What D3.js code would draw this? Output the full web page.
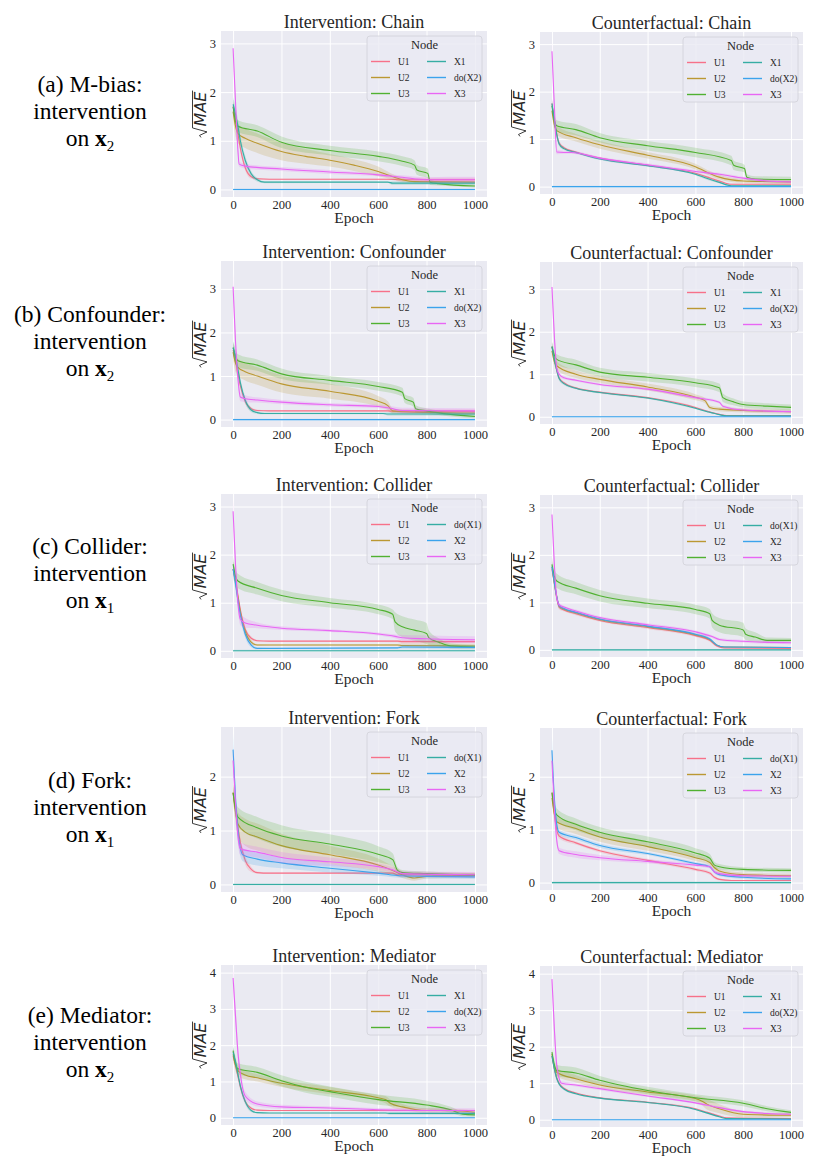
<!DOCTYPE html>
<html lang="en">
<head>
<meta charset="UTF-8">
<title>sqrt(MAE) per node: intervention and counterfactual</title>
<script src="https://d3js.org/d3.v7.min.js"></script>
<style>
  body { margin: 0; background: #fff; }
  svg { display: block; }
</style>
</head>
<body>
<div id="chart"></div>
<script>
// every series is a list of [epoch, mean sqrt(MAE), half width of the band]
const zeroLine = [[0, 0, 0.02], [1000, 0, 0.02]];

// (a) Chain
const chainIntU1 = [[0,1.7,0.15],[10,1.45,0.12],[20,1.15,0.1],[30,0.85,0.08],[50,0.45,0.06],[75,0.26,0.04],[100,0.22,0.02],[150,0.21,0.01],[640,0.21,0.01],[700,0.2,0.04],[1000,0.2,0.04]];
const chainIntU2 = [[0,1.6,0.2],[10,1.3,0.2],[20,1.15,0.2],[50,1.05,0.2],[100,0.95,0.2],[200,0.78,0.18],[300,0.68,0.15],[400,0.6,0.13],[500,0.5,0.12],[600,0.37,0.1],[650,0.28,0.06],[700,0.2,0.04],[750,0.16,0.02],[1000,0.15,0.02]];
const chainIntU3 = [[0,1.7,0.15],[10,1.4,0.12],[20,1.3,0.12],[100,1.2,0.12],[200,0.97,0.12],[400,0.8,0.1],[600,0.68,0.1],[700,0.58,0.1],[750,0.5,0.1],[760,0.4,0.1],[805,0.33,0.1],[815,0.15,0.06],[850,0.12,0.04],[1000,0.07,0.03]];
const chainIntX1 = [[0,1.75,0.15],[10,1.55,0.15],[20,1.3,0.15],[30,1.0,0.12],[50,0.6,0.1],[75,0.32,0.06],[100,0.2,0.04],[130,0.15,0.02],[640,0.15,0.01],[660,0.13,0.04],[1000,0.13,0.04]];
const chainIntX3 = [[0,2.9,0.2],[10,1.8,0.15],[20,0.8,0.1],[25,0.52,0.05],[50,0.48,0.05],[200,0.42,0.04],[400,0.36,0.04],[600,0.3,0.03],[700,0.25,0.04],[800,0.2,0.05],[900,0.2,0.06],[1000,0.2,0.06]];
const chainCfU1 = [[0,1.75,0.1],[10,1.4,0.1],[20,1.1,0.08],[30,0.92,0.05],[50,0.82,0.03],[100,0.73,0.02],[200,0.6,0.02],[400,0.45,0.02],[600,0.28,0.02],[650,0.2,0.03],[700,0.12,0.02],[750,0.05,0.01],[1000,0.05,0.01]];
const chainCfU2 = [[0,1.6,0.1],[10,1.3,0.1],[20,1.18,0.1],[100,1.03,0.08],[200,0.88,0.08],[400,0.66,0.07],[600,0.42,0.06],[650,0.3,0.05],[700,0.2,0.05],[800,0.12,0.04],[1000,0.1,0.04]];
const chainCfU3 = [[0,1.7,0.12],[10,1.4,0.12],[20,1.28,0.12],[100,1.2,0.12],[200,1.03,0.1],[400,0.86,0.1],[600,0.72,0.1],[750,0.55,0.1],[760,0.45,0.1],[805,0.38,0.08],[815,0.2,0.06],[850,0.16,0.06],[1000,0.15,0.06]];
const chainCfX1 = [[0,1.75,0.1],[10,1.4,0.1],[20,1.1,0.08],[30,0.9,0.05],[50,0.8,0.03],[100,0.72,0.02],[200,0.58,0.02],[400,0.44,0.02],[600,0.26,0.02],[650,0.17,0.03],[700,0.09,0.02],[750,0.02,0.01],[1000,0.02,0.01]];
const chainCfX3 = [[0,2.85,0.2],[10,1.7,0.15],[20,0.73,0.05],[50,0.72,0.03],[80,0.72,0.03],[200,0.6,0.03],[400,0.46,0.03],[600,0.32,0.03],[700,0.26,0.03],[800,0.18,0.03],[900,0.12,0.03],[1000,0.1,0.03]];

// (b) Confounder
const confIntU1 = [[0,1.6,0.15],[10,1.35,0.12],[20,1.05,0.1],[30,0.78,0.08],[50,0.42,0.06],[75,0.25,0.04],[100,0.21,0.02],[150,0.2,0.01],[640,0.2,0.02],[660,0.19,0.04],[1000,0.19,0.04]];
const confIntU2 = [[0,1.55,0.2],[10,1.3,0.2],[20,1.2,0.2],[50,1.1,0.2],[100,1.0,0.2],[200,0.82,0.2],[400,0.65,0.17],[600,0.42,0.12],[640,0.32,0.1],[660,0.2,0.06],[700,0.18,0.05],[1000,0.15,0.05]];
const confIntU3 = [[0,1.65,0.15],[10,1.45,0.15],[20,1.35,0.15],[100,1.25,0.13],[200,1.05,0.12],[400,0.9,0.1],[600,0.76,0.1],[700,0.63,0.1],[710,0.48,0.1],[745,0.4,0.1],[755,0.25,0.08],[800,0.2,0.06],[900,0.12,0.05],[1000,0.07,0.04]];
const confIntX1 = [[0,1.65,0.15],[10,1.45,0.15],[20,1.15,0.12],[30,0.85,0.1],[50,0.45,0.08],[75,0.22,0.05],[100,0.16,0.03],[130,0.14,0.02],[620,0.14,0.02],[640,0.13,0.04],[1000,0.13,0.04]];
const confIntX3 = [[0,3.05,0.3],[10,1.8,0.2],[20,0.95,0.15],[30,0.52,0.1],[50,0.48,0.08],[100,0.45,0.06],[200,0.4,0.05],[400,0.34,0.04],[600,0.3,0.04],[650,0.26,0.05],[700,0.21,0.06],[1000,0.2,0.06]];
const confCfU1 = [[0,1.65,0.1],[10,1.35,0.1],[20,1.1,0.08],[30,0.92,0.05],[50,0.8,0.03],[100,0.68,0.02],[200,0.58,0.02],[400,0.45,0.02],[600,0.22,0.02],[650,0.13,0.02],[700,0.06,0.01],[730,0.03,0.01],[1000,0.03,0.01]];
const confCfU2 = [[0,1.55,0.1],[10,1.3,0.1],[20,1.2,0.1],[100,1.0,0.09],[200,0.88,0.08],[400,0.7,0.08],[600,0.46,0.07],[640,0.38,0.06],[660,0.22,0.05],[700,0.18,0.05],[800,0.15,0.05],[1000,0.12,0.05]];
const confCfU3 = [[0,1.65,0.12],[10,1.45,0.12],[20,1.35,0.12],[100,1.22,0.12],[200,1.05,0.1],[400,0.93,0.1],[600,0.8,0.1],[700,0.68,0.1],[715,0.45,0.1],[760,0.35,0.08],[800,0.29,0.07],[900,0.25,0.07],[1000,0.22,0.07]];
const confCfX1 = [[0,1.65,0.1],[10,1.35,0.1],[20,1.1,0.08],[30,0.9,0.05],[50,0.78,0.03],[100,0.67,0.02],[200,0.57,0.02],[400,0.44,0.02],[600,0.2,0.02],[650,0.12,0.02],[700,0.05,0.01],[730,0.02,0.01],[1000,0.02,0.01]];
const confCfX3 = [[0,3.05,0.3],[10,1.9,0.2],[20,1.15,0.1],[30,1.0,0.05],[50,0.92,0.04],[100,0.86,0.03],[200,0.76,0.03],[400,0.65,0.03],[600,0.45,0.03],[700,0.34,0.03],[715,0.25,0.03],[800,0.16,0.03],[1000,0.12,0.03]];

// (c) Collider
const collIntU1 = [[0,1.7,0.15],[10,1.45,0.12],[20,1.15,0.1],[30,0.85,0.08],[50,0.45,0.06],[75,0.26,0.04],[100,0.21,0.02],[150,0.2,0.01],[680,0.2,0.02],[700,0.19,0.04],[1000,0.19,0.04]];
const collIntU2 = [[0,1.7,0.15],[10,1.45,0.15],[20,1.1,0.12],[30,0.8,0.1],[50,0.4,0.08],[75,0.18,0.05],[100,0.12,0.02],[150,0.12,0.01],[680,0.12,0.02],[700,0.11,0.04],[1000,0.1,0.04]];
const collIntU3 = [[0,1.8,0.15],[10,1.55,0.15],[20,1.45,0.15],[100,1.3,0.13],[200,1.15,0.12],[400,1.0,0.1],[600,0.86,0.1],[660,0.76,0.1],[670,0.6,0.2],[700,0.5,0.22],[750,0.43,0.22],[800,0.36,0.22],[810,0.27,0.15],[850,0.18,0.08],[900,0.1,0.05],[1000,0.08,0.04]];
const collIntX2 = [[0,1.7,0.15],[10,1.4,0.15],[20,1.05,0.12],[30,0.75,0.1],[50,0.35,0.08],[75,0.12,0.05],[100,0.05,0.02],[150,0.05,0.01],[680,0.06,0.02],[700,0.08,0.04],[1000,0.07,0.04]];
const collIntX3 = [[0,2.9,0.25],[10,1.8,0.2],[20,1.0,0.15],[30,0.65,0.12],[50,0.58,0.1],[100,0.53,0.06],[200,0.47,0.04],[400,0.42,0.03],[600,0.35,0.03],[670,0.3,0.04],[700,0.27,0.06],[800,0.25,0.07],[1000,0.23,0.07]];
const collCfU1 = [[0,1.7,0.1],[10,1.4,0.1],[20,1.1,0.08],[30,0.9,0.05],[50,0.84,0.03],[100,0.76,0.03],[200,0.62,0.03],[400,0.47,0.03],[600,0.3,0.03],[660,0.2,0.03],[690,0.08,0.02],[720,0.04,0.01],[1000,0.03,0.01]];
const collCfU2 = [[0,1.75,0.1],[10,1.42,0.1],[20,1.12,0.08],[30,0.92,0.05],[50,0.86,0.03],[100,0.78,0.03],[200,0.64,0.03],[400,0.49,0.03],[600,0.32,0.03],[660,0.22,0.03],[690,0.1,0.02],[720,0.06,0.01],[1000,0.05,0.01]];
const collCfU3 = [[0,1.8,0.15],[10,1.55,0.15],[20,1.45,0.15],[100,1.3,0.13],[200,1.14,0.12],[400,0.98,0.1],[600,0.85,0.1],[660,0.76,0.1],[670,0.62,0.15],[700,0.52,0.15],[800,0.42,0.15],[810,0.33,0.12],[850,0.27,0.1],[900,0.2,0.06],[1000,0.2,0.05]];
const collCfX2 = [[0,1.75,0.1],[10,1.42,0.1],[20,1.12,0.08],[30,0.93,0.05],[50,0.87,0.03],[100,0.79,0.03],[200,0.65,0.03],[400,0.5,0.03],[600,0.33,0.03],[660,0.23,0.03],[690,0.1,0.02],[720,0.06,0.01],[1000,0.05,0.01]];
const collCfX3 = [[0,2.85,0.25],[10,1.8,0.15],[20,1.1,0.08],[30,0.95,0.04],[50,0.9,0.03],[100,0.82,0.03],[200,0.68,0.03],[400,0.53,0.03],[600,0.38,0.03],[670,0.28,0.03],[700,0.22,0.03],[800,0.18,0.03],[1000,0.15,0.03]];

// (d) Fork
const forkIntU1 = [[0,1.7,0.15],[10,1.4,0.15],[20,1.05,0.12],[30,0.78,0.1],[50,0.45,0.08],[75,0.28,0.05],[100,0.22,0.02],[150,0.21,0.01],[660,0.21,0.02],[680,0.18,0.04],[1000,0.18,0.04]];
const forkIntU2 = [[0,1.7,0.2],[10,1.35,0.2],[20,1.12,0.22],[50,0.97,0.25],[100,0.88,0.25],[200,0.72,0.22],[400,0.55,0.17],[600,0.36,0.12],[660,0.26,0.08],[700,0.18,0.06],[750,0.12,0.05],[800,0.15,0.04],[1000,0.17,0.04]];
const forkIntU3 = [[0,1.7,0.15],[10,1.4,0.15],[20,1.25,0.18],[100,1.05,0.2],[200,0.9,0.2],[400,0.75,0.18],[600,0.56,0.15],[660,0.46,0.12],[680,0.26,0.06],[700,0.22,0.05],[800,0.2,0.04],[1000,0.17,0.04]];
const forkIntX2 = [[0,2.5,0.3],[10,1.6,0.25],[20,1.0,0.2],[40,0.55,0.12],[100,0.47,0.12],[200,0.4,0.1],[400,0.3,0.08],[600,0.21,0.05],[700,0.16,0.04],[800,0.15,0.04],[1000,0.14,0.04]];
const forkIntX3 = [[0,2.3,0.25],[10,1.5,0.2],[20,0.9,0.15],[30,0.66,0.12],[100,0.6,0.1],[200,0.5,0.1],[400,0.42,0.08],[600,0.33,0.06],[660,0.27,0.05],[700,0.2,0.05],[1000,0.18,0.05]];
const forkCfU1 = [[0,1.7,0.12],[10,1.3,0.1],[20,1.0,0.08],[30,0.88,0.05],[100,0.75,0.03],[200,0.6,0.03],[400,0.42,0.03],[600,0.25,0.03],[660,0.18,0.03],[680,0.1,0.03],[700,0.06,0.02],[750,0.04,0.01],[1000,0.04,0.01]];
const forkCfU2 = [[0,1.6,0.12],[10,1.3,0.12],[20,1.15,0.12],[100,1.02,0.1],[200,0.86,0.09],[400,0.68,0.08],[600,0.47,0.06],[660,0.38,0.05],[680,0.28,0.05],[700,0.22,0.04],[800,0.15,0.04],[1000,0.13,0.04]];
const forkCfU3 = [[0,1.7,0.12],[10,1.4,0.12],[20,1.28,0.12],[100,1.1,0.11],[200,0.95,0.1],[400,0.77,0.1],[600,0.56,0.09],[660,0.46,0.08],[680,0.33,0.06],[700,0.3,0.05],[800,0.25,0.04],[1000,0.23,0.04]];
const forkCfX2 = [[0,2.5,0.25],[10,1.6,0.15],[20,1.1,0.08],[30,0.95,0.05],[100,0.85,0.04],[200,0.7,0.04],[400,0.55,0.03],[600,0.36,0.03],[660,0.3,0.03],[680,0.2,0.03],[700,0.15,0.03],[800,0.1,0.03],[1000,0.07,0.03]];
const forkCfX3 = [[0,2.3,0.2],[10,1.4,0.15],[20,0.8,0.08],[30,0.6,0.06],[100,0.53,0.06],[200,0.47,0.05],[400,0.4,0.04],[600,0.33,0.03],[660,0.3,0.03],[680,0.2,0.03],[700,0.17,0.03],[800,0.13,0.03],[1000,0.12,0.03]];

// (e) Mediator
const medIntU1 = [[0,1.7,0.15],[10,1.45,0.12],[20,1.15,0.1],[30,0.85,0.08],[50,0.45,0.06],[75,0.26,0.04],[100,0.21,0.02],[150,0.2,0.01],[1000,0.2,0.02]];
const medIntU2 = [[0,1.75,0.15],[10,1.45,0.15],[20,1.3,0.15],[50,1.18,0.12],[100,1.1,0.1],[200,0.95,0.1],[400,0.75,0.1],[600,0.55,0.08],[630,0.5,0.1],[650,0.4,0.1],[700,0.3,0.08],[800,0.2,0.06],[900,0.2,0.05],[1000,0.15,0.05]];
const medIntU3 = [[0,1.85,0.15],[10,1.5,0.15],[20,1.35,0.15],[100,1.25,0.15],[200,1.02,0.15],[300,0.84,0.15],[400,0.72,0.14],[600,0.5,0.14],[800,0.35,0.12],[900,0.22,0.08],[950,0.1,0.06],[1000,0.08,0.05]];
const medIntX1 = [[0,1.8,0.15],[10,1.55,0.15],[20,1.2,0.12],[30,0.88,0.1],[50,0.45,0.08],[75,0.2,0.05],[100,0.14,0.02],[150,0.13,0.01],[630,0.13,0.02],[650,0.12,0.04],[1000,0.12,0.04]];
const medIntX3 = [[0,3.85,0.3],[10,2.8,0.3],[20,1.8,0.25],[30,1.2,0.2],[50,0.6,0.12],[100,0.38,0.07],[200,0.3,0.06],[400,0.27,0.05],[600,0.22,0.05],[800,0.2,0.06],[1000,0.2,0.06]];
const medCfU1 = [[0,1.75,0.1],[10,1.4,0.1],[20,1.15,0.08],[30,1.0,0.05],[50,0.86,0.03],[100,0.73,0.02],[200,0.6,0.02],[400,0.48,0.02],[600,0.3,0.02],[650,0.2,0.02],[700,0.1,0.02],[730,0.05,0.01],[1000,0.03,0.01]];
const medCfU2 = [[0,1.8,0.12],[10,1.45,0.12],[20,1.3,0.12],[100,1.12,0.1],[200,0.95,0.09],[400,0.76,0.08],[600,0.58,0.08],[630,0.5,0.12],[650,0.42,0.15],[700,0.3,0.12],[800,0.15,0.08],[1000,0.12,0.05]];
const medCfU3 = [[0,1.85,0.15],[10,1.5,0.15],[20,1.35,0.15],[100,1.28,0.15],[200,1.08,0.12],[400,0.8,0.1],[600,0.6,0.1],[800,0.45,0.08],[900,0.3,0.07],[1000,0.2,0.06]];
const medCfX1 = [[0,1.75,0.1],[10,1.4,0.1],[20,1.13,0.08],[30,0.98,0.05],[50,0.84,0.03],[100,0.71,0.02],[200,0.59,0.02],[400,0.47,0.02],[600,0.28,0.02],[650,0.18,0.02],[700,0.08,0.02],[730,0.03,0.01],[1000,0.02,0.01]];
const medCfX3 = [[0,3.85,0.3],[10,2.5,0.25],[20,1.5,0.15],[40,1.0,0.05],[100,0.95,0.04],[200,0.85,0.04],[400,0.65,0.03],[600,0.46,0.03],[700,0.33,0.03],[800,0.22,0.03],[900,0.17,0.03],[1000,0.15,0.03]];

const nodesX2 = ["U1", "U2", "U3", "X1", "do(X2)", "X3"];
const nodesX1 = ["U1", "U2", "U3", "do(X1)", "X2", "X3"];
const palette = ["#f77189", "#bb9832", "#50b131", "#36ada4", "#3ba3ec", "#e866f4"];
const graphs = ["Chain", "Confounder", "Collider", "Fork", "Mediator"];
const modes = ["Intervention", "Counterfactual"];
const captions = ["(a) M-bias:", "(b) Confounder:", "(c) Collider:", "(d) Fork:", "(e) Mediator:"];
const targets = ["2", "2", "1", "1", "2"];
const xTicks = [0, 200, 400, 600, 800, 1000];
const yTickSets = [[0, 1, 2, 3], [0, 1, 2, 3], [0, 1, 2, 3], [0, 1, 2], [0, 1, 2, 3, 4]];

const rows = [
  { nodes: nodesX2, series: [[chainIntU1, chainIntU2, chainIntU3, chainIntX1, zeroLine, chainIntX3], [chainCfU1, chainCfU2, chainCfU3, chainCfX1, zeroLine, chainCfX3]] },
  { nodes: nodesX2, series: [[confIntU1, confIntU2, confIntU3, confIntX1, zeroLine, confIntX3], [confCfU1, confCfU2, confCfU3, confCfX1, zeroLine, confCfX3]] },
  { nodes: nodesX1, series: [[collIntU1, collIntU2, collIntU3, zeroLine, collIntX2, collIntX3], [collCfU1, collCfU2, collCfU3, zeroLine, collCfX2, collCfX3]] },
  { nodes: nodesX1, series: [[forkIntU1, forkIntU2, forkIntU3, zeroLine, forkIntX2, forkIntX3], [forkCfU1, forkCfU2, forkCfU3, zeroLine, forkCfX2, forkCfX3]] },
  { nodes: nodesX2, series: [[medIntU1, medIntU2, medIntU3, medIntX1, zeroLine, medIntX3], [medCfU1, medCfU2, medCfU3, medCfX1, zeroLine, medCfX3]] }
];

// layout
const W = 830, H = 1174;
const colLeft = [221, 540], colRight = [487, 803];
const plotTop = [[31, 261, 494, 727, 965], [32, 262, 495, 728, 966]];
const plotBottom = [[197, 427, 658, 892, 1125], [194, 424, 657, 890, 1127]];
const yDomains = [[-0.155, 3.255], [-0.17, 3.64], [-0.15, 3.26], [-0.14, 2.92], [-0.2, 4.21]];
const serif = "'Liberation Serif', 'Times New Roman', serif";
const ink = "#262626";

const svg = d3.select("#chart").append("svg")
  .attr("width", W).attr("height", H)
  .attr("viewBox", `0 0 ${W} ${H}`);

rows.forEach((row, r) => {
  // row caption on the left
  const midY = (plotTop[0][r] + plotBottom[0][r]) / 2 + 5;
  const cap = svg.append("g")
    .attr("font-family", serif).attr("font-size", 23.5)
    .attr("fill", "#000").attr("text-anchor", "middle");
  cap.append("text").attr("x", 90).attr("y", midY - 27).text(captions[r]);
  cap.append("text").attr("x", 90).attr("y", midY).text("intervention");
  const last = cap.append("text").attr("x", 90).attr("y", midY + 27);
  last.append("tspan").text("on ");
  last.append("tspan").attr("font-weight", "bold").text("x");
  last.append("tspan").attr("font-size", 15).attr("dy", 5).text(targets[r]);

  modes.forEach((mode, c) => {
    const top = plotTop[c][r], bottom = plotBottom[c][r];
    const left = colLeft[c], right = colRight[c];

    const x = d3.scaleLinear().domain([-50, 1050]).range([left, right]);
    const y = d3.scaleLinear().domain(yDomains[r]).range([bottom, top]);

    const panel = svg.append("g");
    const clipId = `clip-${r}-${c}`;
    panel.append("clipPath").attr("id", clipId)
      .append("rect").attr("x", left).attr("y", top)
      .attr("width", right - left).attr("height", bottom - top);

    panel.append("rect")
      .attr("x", left).attr("y", top)
      .attr("width", right - left).attr("height", bottom - top)
      .attr("fill", "#eaeaf2");

    // axes with the white grid
    const gx = panel.append("g")
      .attr("transform", `translate(0,${bottom})`)
      .call(d3.axisBottom(x).tickValues(xTicks).tickFormat(d3.format("d"))
        .tickSize(-(bottom - top)).tickPadding(3.5));
    const gy = panel.append("g")
      .attr("transform", `translate(${left},0)`)
      .call(d3.axisLeft(y).tickValues(yTickSets[r]).tickFormat(d3.format("d"))
        .tickSize(-(right - left)).tickPadding(5));
    [gx, gy].forEach(g => {
      g.select(".domain").remove();
      g.selectAll(".tick line").attr("stroke", "#fff").attr("stroke-width", 1);
      g.selectAll(".tick text")
        .attr("font-family", serif).attr("font-size", 12.5).attr("fill", ink);
    });

    // bands and lines
    const band = d3.area()
      .x(d => x(d[0])).y0(d => y(d[1] - d[2])).y1(d => y(d[1] + d[2]))
      .curve(d3.curveMonotoneX);
    const line = d3.line()
      .x(d => x(d[0])).y(d => y(d[1]))
      .curve(d3.curveMonotoneX);
    const marks = panel.append("g").attr("clip-path", `url(#${clipId})`);
    row.series[c].forEach((s, i) => {
      marks.append("path").datum(s)
        .attr("d", band).attr("fill", palette[i]).attr("fill-opacity", 0.2);
      marks.append("path").datum(s)
        .attr("d", line).attr("fill", "none")
        .attr("stroke", palette[i]).attr("stroke-width", 1.1);
    });

    // title and axis labels
    panel.append("text")
      .attr("x", (left + right) / 2).attr("y", top - 3)
      .attr("text-anchor", "middle")
      .attr("font-family", serif).attr("font-size", 18).attr("fill", ink)
      .text(`${mode}: ${graphs[r]}`);

    panel.append("text")
      .attr("x", (left + right) / 2).attr("y", bottom + 26)
      .attr("text-anchor", "middle")
      .attr("font-family", serif).attr("font-size", 15.5).attr("fill", ink)
      .text("Epoch");

    const yl = panel.append("g")
      .attr("transform", `translate(${left - 15},${(top + bottom) / 2}) rotate(-90)`);
    const mae = yl.append("text")
      .attr("x", 5).attr("text-anchor", "middle")
      .attr("font-family", "'DejaVu Sans', sans-serif")
      .attr("font-style", "italic").attr("font-size", 16).attr("fill", ink)
      .text("MAE");
    const s0 = mae.node().getStartPositionOfChar(0).x;
    const s1 = mae.node().getEndPositionOfChar(2).x;
    yl.append("path")
      .attr("d", `M${s0 - 11},-5 L${s0 - 9},-6.5 L${s0 - 5.5},1 L${s0 - 1.5},-13.5 L${s1 + 1},-13.5`)
      .attr("fill", "none").attr("stroke", ink).attr("stroke-width", 0.9);

    // legend
    const lw = 115, lh = 65;
    const lx = right - 5 - lw, ly = top + 5;
    const lg = panel.append("g").attr("transform", `translate(${lx},${ly})`);
    lg.append("rect")
      .attr("width", lw).attr("height", lh).attr("rx", 3)
      .attr("fill", "#eaeaf2").attr("fill-opacity", 0.8)
      .attr("stroke", "#d0d0d8").attr("stroke-width", 0.8);
    lg.append("text")
      .attr("x", lw / 2).attr("y", 13).attr("text-anchor", "middle")
      .attr("font-family", serif).attr("font-size", 12.5).attr("fill", ink)
      .text("Node");
    row.nodes.forEach((name, i) => {
      const col = Math.floor(i / 3), k = i % 3;
      const hx = 4 + col * 56, by = 29 + k * 16;
      lg.append("line")
        .attr("x1", hx).attr("x2", hx + 19)
        .attr("y1", by - 3.5).attr("y2", by - 3.5)
        .attr("stroke", palette[i]).attr("stroke-width", 1.4);
      lg.append("text")
        .attr("x", hx + 27).attr("y", by)
        .attr("font-family", serif).attr("font-size", 9.5).attr("fill", ink)
        .text(name);
    });
  });
});
</script>
</body>
</html>
